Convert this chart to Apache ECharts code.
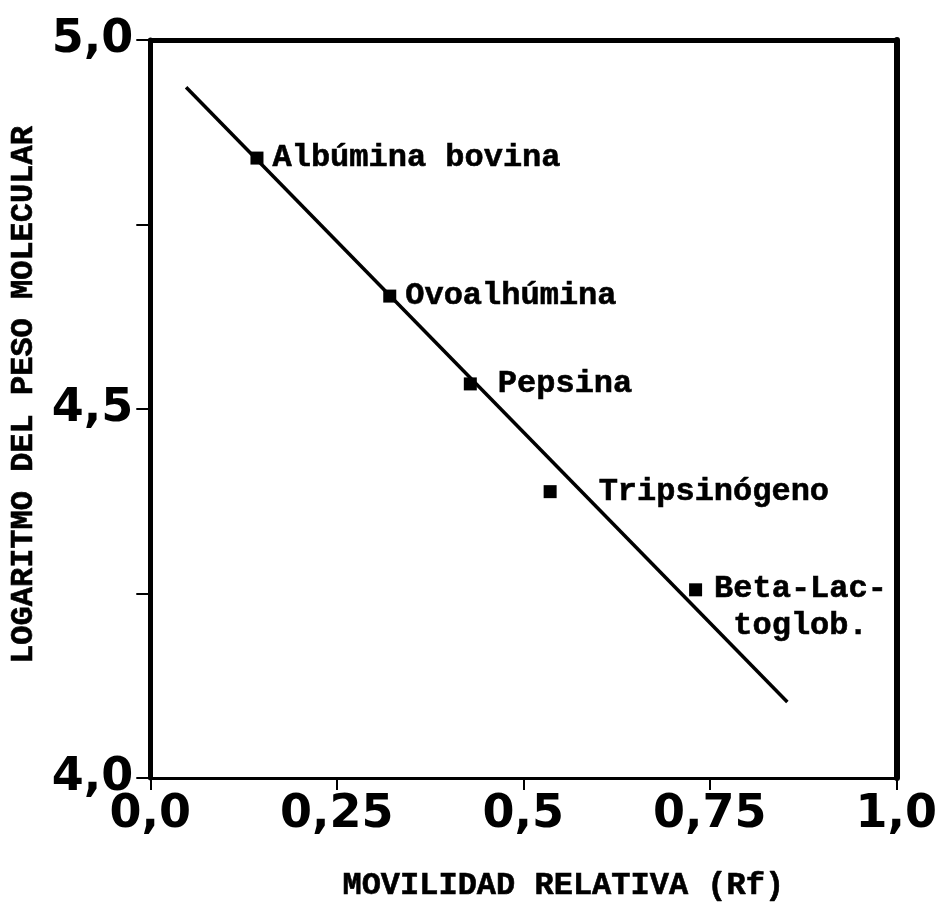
<!DOCTYPE html>
<html>
<head>
<meta charset="utf-8">
<script src="https://cdn.jsdelivr.net/npm/echarts@6/dist/echarts.min.js"></script>
<style>
  html, body { margin: 0; padding: 0; background: #fff; }
  #chart { width: 940px; height: 914px; }
</style>
</head>
<body>
<div id="chart"></div>
<script>
// Calibration proteins: relative mobility (Rf) vs log10 of molecular weight
const proteinNames = ['Albúmina bovina', 'Ovoalhúmina', 'Pepsina', 'Tripsinógeno', 'Beta-Lac-\n toglob.'];
const rfValues = [0.143, 0.321, 0.429, 0.536, 0.731];
const logMwValues = [4.840, 4.653, 4.534, 4.388, 4.255];

// Fitted calibration line (end points)
const fitRf = [0.048, 0.854];
const fitLogMw = [4.936, 4.103];

// Tick labels
const xTickValues = [0, 0.25, 0.5, 0.75, 1];
const xTickLabels = ['0,0', '0,25', '0,5', '0,75', '1,0'];
const yTickValues = [4, 4.5, 5];
const yTickLabels = ['4,0', '4,5', '5,0'];

const monoFont = '"Courier New", "Liberation Mono", monospace';
const tickFont = '"DejaVu Sans", sans-serif';

// label spacing from each marker
const labelDistance = [9, 9, 21, 42, 12];
const labelOffsetY = [0, 0, 0, 0, 18];

const chart = echarts.init(document.getElementById('chart'), null, { renderer: 'canvas' });

function xLabel(v) {
  const i = xTickValues.findIndex(t => Math.abs(t - v) < 1e-9);
  return i >= 0 ? xTickLabels[i] : '';
}
function yLabel(v) {
  const i = yTickValues.findIndex(t => Math.abs(t - v) < 1e-9);
  return i >= 0 ? yTickLabels[i] : '';
}

const hiddenAxisParts = {
  axisTick: { show: false },
  axisLabel: { show: false },
  splitLine: { show: false }
};

chart.setOption({
  animation: false,
  backgroundColor: '#fff',
  grid: { left: 147, right: 36, top: 40, bottom: 136 },
  xAxis: [
    {
      type: 'value', min: 0, max: 1, interval: 0.25, position: 'bottom',
      axisLine: { onZero: false, lineStyle: { color: '#000', width: 3 } },
      axisTick: { show: true, inside: false, length: 12, lineStyle: { color: '#000', width: 2 } },
      axisLabel: {
        formatter: xLabel, color: '#000', margin: 14,
        fontFamily: tickFont, fontWeight: 'bold', fontSize: 46
      },
      splitLine: { show: false },
      name: 'MOVILIDAD RELATIVA (Rf)',
      nameLocation: 'middle', nameGap: 92,
      nameTextStyle: {
        color: '#000', fontFamily: monoFont, fontWeight: 'bold', fontSize: 32,
        textBorderColor: '#000', textBorderWidth: 0.6,
        padding: [0, 0, 0, 80]
      }
    },
    Object.assign({
      type: 'value', min: 0, max: 1, position: 'top',
      axisLine: { show: true, onZero: false, lineStyle: { color: '#000', width: 5 } }
    }, hiddenAxisParts)
  ],
  yAxis: [
    {
      type: 'value', min: 4, max: 5, interval: 0.25, position: 'left',
      axisLine: { onZero: false, lineStyle: { color: '#000', width: 5 } },
      axisTick: { show: true, inside: false, length: 14, lineStyle: { color: '#000', width: 2 } },
      axisLabel: {
        formatter: yLabel, color: '#000', margin: 17,
        fontFamily: tickFont, fontWeight: 'bold', fontSize: 46,
        padding: [0, 0, 9, 0]
      },
      splitLine: { show: false },
      name: 'LOGARITMO DEL PESO MOLECULAR',
      nameLocation: 'middle', nameGap: 110,
      nameTextStyle: {
        color: '#000', fontFamily: monoFont, fontWeight: 'bold', fontSize: 32,
        textBorderColor: '#000', textBorderWidth: 0.6,
        padding: [0, 0, 0, 28]
      }
    },
    Object.assign({
      type: 'value', min: 4, max: 5, position: 'right',
      axisLine: { show: true, onZero: false, lineStyle: { color: '#000', width: 6 } }
    }, hiddenAxisParts)
  ],
  series: [
    {
      type: 'line',
      data: fitRf.map((x, i) => [x, fitLogMw[i]]),
      showSymbol: false,
      lineStyle: { color: '#000', width: 3.5 },
      silent: true,
      z: 2
    },
    {
      type: 'scatter',
      symbol: 'rect',
      symbolSize: 13,
      itemStyle: { color: '#000', opacity: 1 },
      z: 3,
      data: rfValues.map((x, i) => ({
        value: [x, logMwValues[i]],
        label: {
          show: true,
          position: 'right',
          distance: labelDistance[i],
          offset: [0, labelOffsetY[i]],
          formatter: proteinNames[i],
          color: '#000',
          opacity: 1,
          textBorderColor: '#000',
          textBorderWidth: 0.6,
          fontFamily: monoFont,
          fontWeight: 'bold',
          fontSize: 32,
          lineHeight: 37,
          align: 'left'
        }
      }))
    }
  ]
});
</script>
</body>
</html>
